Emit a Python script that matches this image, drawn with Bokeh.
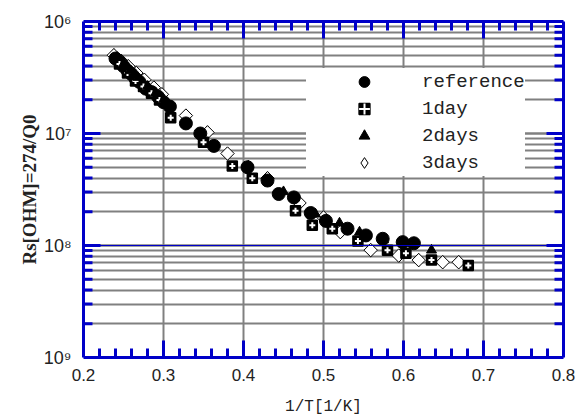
import math
from bokeh.plotting import figure
from bokeh.models import (Range1d, LinearAxis, LogAxis, SingleIntervalTicker, LogTicker,
                          CustomJSTickFormatter, Span, Legend, LegendItem, ColumnDataSource, Title)
from bokeh.embed import file_html
from bokeh.resources import INLINE

# Data: x = 1/T [1/K], Rs in units of 1e6 ohm (as read against the axis labels)
ref_x = [0.240, 0.245, 0.250, 0.255, 0.260, 0.265, 0.270, 0.278, 0.285, 0.293, 0.300, 0.308,
         0.328, 0.346, 0.363, 0.405, 0.430, 0.444, 0.463, 0.484, 0.503, 0.530, 0.553, 0.574,
         0.599, 0.613]
ref_rs = [2.14, 2.29, 2.51, 2.75, 2.95, 3.24, 3.47, 3.98, 4.27, 4.68, 5.25, 5.75,
          8.13, 10.0, 12.9, 20.0, 26.3, 34.7, 37.2, 51.3, 60.3, 70.8, 81.3, 87.1,
          93.3, 95.5]

day1_x = [0.245, 0.255, 0.265, 0.275, 0.285, 0.295, 0.309, 0.350, 0.386, 0.411, 0.465, 0.486,
          0.511, 0.543, 0.580, 0.603, 0.635, 0.681]
day1_rs = [2.40, 2.88, 3.39, 3.80, 4.37, 5.01, 7.24, 12.0, 19.5, 25.1, 49.0, 66.1,
           70.8, 91.2, 110, 117, 135, 151]

day2_x = [0.242, 0.250, 0.258, 0.268, 0.280, 0.290, 0.300, 0.406, 0.450, 0.490, 0.520, 0.545,
          0.575, 0.635]
day2_rs = [2.09, 2.40, 2.75, 3.16, 3.80, 4.37, 5.01, 19.5, 33.1, 52.5, 63.1, 75.9,
           89.1, 110]

day3_x = [0.238, 0.247, 0.256, 0.266, 0.276, 0.288, 0.298, 0.328, 0.355, 0.380, 0.430, 0.470,
          0.500, 0.521, 0.559, 0.594, 0.619, 0.649, 0.669]
day3_rs = [2.00, 2.24, 2.51, 2.88, 3.31, 3.89, 4.47, 6.92, 9.77, 15.1, 25.1, 41.7,
           56.2, 75.9, 110, 123, 135, 141, 141]

labels = ["reference", "1day", "2days", "3days"]

# axis tick values
x_major = [round(0.2 + 0.1 * i, 1) for i in range(7)]
x_minor = [round(0.2 + 0.02 * i, 2) for i in range(31) if i % 5 != 0]
y_major = [10.0 ** -e for e in (9, 8, 7, 6)]
y_minor = [k * 10.0 ** -e for e in (9, 8, 7) for k in range(2, 10)]

X0, X1, Y0, Y1 = 0.2, 0.8, 1e-9, 1e-6


def src(xs, rs):
    return ColumnDataSource(dict(x=xs, y=[1.0 / (r * 1e6) for r in rs]))


BLUE = "#0000C8"
GRAY = "#808080"
TXT = "#222222"

p = figure(width=575, height=420, x_range=Range1d(X0, X1), y_range=Range1d(Y0, Y1),
           y_axis_type="log", output_backend="svg", toolbar_location=None,
           min_border_left=83, min_border_right=12, min_border_top=21, min_border_bottom=63)
p.outline_line_color = None
p.background_fill_color = "white"

xt = SingleIntervalTicker(interval=0.1, num_minor_ticks=5)
yt = LogTicker(mantissas=[1], num_minor_ticks=10)
xfmt = CustomJSTickFormatter(code="return tick.toFixed(1);")
yfmt = CustomJSTickFormatter(code="""
const e = -Math.round(Math.log10(tick));
const sup = {"0":"\u2070","1":"\u00b9","2":"\u00b2","3":"\u00b3","4":"\u2074","5":"\u2075","6":"\u2076","7":"\u2077","8":"\u2078","9":"\u2079"};
return "10" + String(e).split("").map(c => sup[c] || c).join("");
""")
blank = CustomJSTickFormatter(code="return '';")


def style_axis(ax, show):
    ax.axis_line_color = BLUE
    ax.axis_line_width = 3
    ax.major_tick_line_color = None
    ax.minor_tick_line_color = None
    ax.major_label_text_font = "Liberation Sans"
    ax.major_label_text_font_size = "18px"
    ax.major_label_text_color = TXT
    if not show:
        ax.major_label_text_font_size = "0px"
        ax.major_label_standoff = 0


p.xaxis.ticker = xt
p.xaxis.formatter = xfmt
p.yaxis.ticker = yt
p.yaxis.formatter = yfmt
style_axis(p.xaxis[0], True)
style_axis(p.yaxis[0], True)
p.xaxis.major_label_text_font_size = "17px"
p.xaxis.major_label_standoff = 5
p.yaxis.major_label_standoff = 6

p.xaxis.axis_label = "1/T[1/K]"
p.xaxis.axis_label_text_font = "Liberation Mono"
p.xaxis.axis_label_text_font_style = "normal"
p.xaxis.axis_label_text_font_size = "16px"
p.xaxis.axis_label_standoff = 14
p.xaxis.axis_label_text_color = TXT

p.add_layout(Title(text="Rs[OHM]=274/Q0", align="center", offset=-24,
                   text_font="Liberation Serif", text_font_style="bold",
                   text_font_size="19px", text_color=TXT, standoff=2), "left")

top = LinearAxis(ticker=xt, formatter=blank)
style_axis(top, False)
p.add_layout(top, "above")
right = LogAxis(ticker=yt, formatter=blank)
style_axis(right, False)
p.add_layout(right, "right")

p.xgrid.grid_line_color = GRAY
p.xgrid.grid_line_width = 2
p.ygrid.grid_line_color = GRAY
p.ygrid.grid_line_width = 2
p.ygrid.minor_grid_line_color = GRAY
p.ygrid.minor_grid_line_width = 2

p.add_layout(Span(location=1e-8, dimension="width", line_color=BLUE, line_width=1))


# inward tick marks drawn as rays starting just inside each frame edge
def ticks(xs, ys, length, angle):
    p.ray(xs, ys, length=length, angle=angle, length_units="screen",
          line_color=BLUE, line_width=3)


eps = 1e-6
ticks(x_major, [Y0 * (1 + eps)] * len(x_major), 17, math.pi / 2)
ticks(x_minor, [Y0 * (1 + eps)] * len(x_minor), 9, math.pi / 2)
ticks(x_major, [Y1 * (1 - eps)] * len(x_major), 17, -math.pi / 2)
ticks(x_minor, [Y1 * (1 - eps)] * len(x_minor), 9, -math.pi / 2)
ticks([X0 + eps] * len(y_major), y_major, 17, 0)
ticks([X0 + eps] * len(y_minor), y_minor, 9, 0)
ticks([X1 - eps] * len(y_major), y_major, 17, math.pi)
ticks([X1 - eps] * len(y_minor), y_minor, 9, math.pi)

s3 = src(day3_x, day3_rs)
# diamond glyph (used for the legend); fully covered by the rotated squares below
r3_leg = p.scatter("x", "y", source=s3, marker="diamond", size=13, fill_color="white",
                   line_color="black", line_width=1)
r3 = p.scatter("x", "y", source=s3, marker="square", angle=math.pi / 4,
               size=9.5, fill_color="white", line_color="black", line_width=1)
r0 = p.scatter("x", "y", source=src(ref_x, ref_rs), marker="circle", size=13,
               fill_color="black", line_color="black")
s1 = src(day1_x, day1_rs)
r1a = p.scatter("x", "y", source=s1, marker="square", size=10,
                fill_color="black", line_color="black", line_width=1.5)
r1b = p.scatter("x", "y", source=s1, marker="cross", size=6,
                line_color="white", line_width=2)
r2 = p.scatter("x", "y", source=src(day2_x, day2_rs), marker="triangle", size=10,
               fill_color="black", line_color="black")

legend = Legend(items=[LegendItem(label=labels[0], renderers=[r0]),
                       LegendItem(label=labels[1], renderers=[r1a, r1b]),
                       LegendItem(label=labels[2], renderers=[r2]),
                       LegendItem(label=labels[3], renderers=[r3_leg])],
                location=(223, 181), border_line_color=None, background_fill_color="white",
                background_fill_alpha=1.0, padding=18, spacing=0, glyph_width=116,
                glyph_height=27, label_height=27, label_standoff=0, margin=0,
                label_text_font="Liberation Mono", label_text_font_size="19px",
                label_text_color=TXT)
p.add_layout(legend, "center")

open("out.html", "w").write(file_html(p, INLINE))
